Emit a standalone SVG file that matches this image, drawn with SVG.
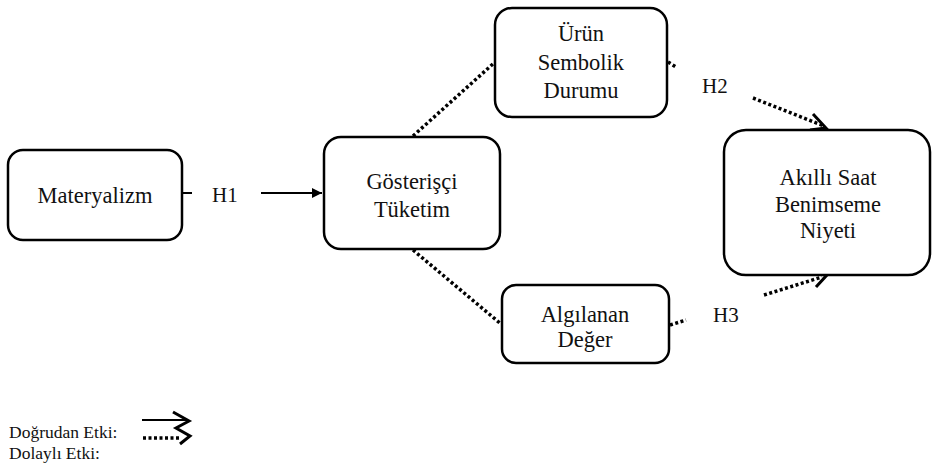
<svg xmlns="http://www.w3.org/2000/svg" width="932" height="465" viewBox="0 0 932 465">
<style>
.box{fill:#fff;stroke:#000;stroke-width:2.5}
.t{font-family:'Liberation Serif','Times New Roman','DejaVu Serif',serif;font-size:22.5px;fill:#111;text-anchor:middle}
.lbl{font-family:'Liberation Serif','Times New Roman','DejaVu Serif',serif;font-size:21px;fill:#111}
.leg{font-family:'Liberation Serif','Times New Roman','DejaVu Serif',serif;font-size:17.5px;fill:#111}
.dot{fill:none;stroke:#000;stroke-width:3.5;stroke-dasharray:3 2.5}
.sol{fill:none;stroke:#000;stroke-width:2}
.chev{fill:none;stroke:#000;stroke-width:3;stroke-linejoin:miter;stroke-linecap:butt}
</style>
<defs>
<marker id="tri" viewBox="0 0 10 10" refX="10" refY="5" markerWidth="5" markerHeight="5" orient="auto" markerUnits="strokeWidth">
<path d="M0,0 L10,5 L0,10 z" fill="#000"/>
</marker>
</defs>
<rect width="932" height="465" fill="#fff"/>
<g id="connectors">
<line class="sol" x1="182" y1="193" x2="192" y2="193"/>
<line class="sol" x1="261" y1="193" x2="322" y2="193" marker-end="url(#tri)"/>
<line class="dot" x1="413" y1="136" x2="494" y2="63"/>
<line class="dot" x1="413" y1="250" x2="501" y2="324"/>
<line class="dot" x1="668" y1="62" x2="676" y2="67"/>
<line class="dot" x1="753" y1="98" x2="824" y2="126"/>
<polyline class="chev" points="813,114 826,128 810,130"/>
<line class="dot" x1="670" y1="325" x2="686" y2="320"/>
<line class="dot" x1="764" y1="295" x2="822" y2="277"/>
<polyline class="chev" points="812,268 826,276 816,287"/>
</g>
<g id="materyalizm">
<rect class="box" x="8" y="150" width="174" height="90" rx="15"/>
<text class="t" x="95" y="203" font-family="Liberation Serif, serif">Materyalizm</text>
</g>
<g id="gosterisci">
<rect class="box" x="324" y="137" width="176" height="112" rx="17"/>
<text class="t" x="412" y="189">Gösterişçi</text>
<text class="t" x="412" y="217">Tüketim</text>
</g>
<g id="urun">
<rect class="box" x="495" y="8" width="172" height="109" rx="17"/>
<text class="t" x="581" y="41">Ürün</text>
<text class="t" x="581" y="70">Sembolik</text>
<text class="t" x="581" y="98">Durumu</text>
</g>
<g id="algilanan">
<rect class="box" x="502" y="285" width="167" height="78" rx="14"/>
<text class="t" x="585" y="322">Algılanan</text>
<text class="t" x="585" y="347">Değer</text>
</g>
<g id="akilli">
<rect class="box" x="724" y="130" width="206" height="145" rx="22"/>
<text class="t" x="828" y="185">Akıllı Saat</text>
<text class="t" x="828" y="212">Benimseme</text>
<text class="t" x="828" y="238">Niyeti</text>
</g>
<g id="labels">
<text class="lbl" x="212" y="202">H1</text>
<text class="lbl" x="702" y="93">H2</text>
<text class="lbl" x="713" y="322">H3</text>
</g>
<g id="legend">
<text class="leg" x="9" y="438">Doğrudan Etki:</text>
<text class="leg" x="9" y="459">Dolaylı Etki:</text>
<line class="sol" x1="142" y1="420" x2="188" y2="420" stroke-width="3"/>
<polyline class="chev" points="173,412 189,421 176,428 190,436 180,444"/>
<line class="dot" x1="143" y1="438" x2="180" y2="438"/>
</g>
</svg>
